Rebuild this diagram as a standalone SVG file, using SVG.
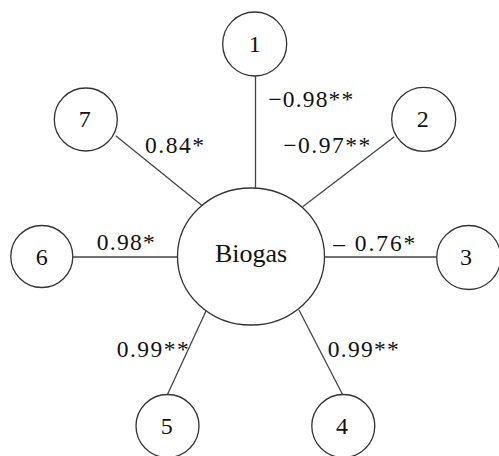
<svg xmlns="http://www.w3.org/2000/svg" width="499" height="456" viewBox="0 0 499 456">
<style>
.n{fill:#fff;stroke:#333;stroke-width:1.3}
.e{stroke:#444;stroke-width:1.3;fill:none}
.t{font-family:"Liberation Serif","Times New Roman",serif;fill:#111;text-anchor:middle}
.l{font-family:"Liberation Serif","Times New Roman",serif;fill:#111;font-size:23.5px}
</style>
<rect width="499" height="456" fill="#fff"/>
<g id="connectors">
<line class="e" x1="255.5" y1="76" x2="255.5" y2="188"/>
<line class="e" x1="394.3" y1="136.7" x2="302.7" y2="206.7"/>
<line class="e" x1="324" y1="257" x2="437" y2="257"/>
<line class="e" x1="342.3" y1="394" x2="299" y2="310"/>
<line class="e" x1="167.7" y1="394" x2="206" y2="311"/>
<line class="e" x1="72.7" y1="257" x2="177.5" y2="257"/>
<line class="e" x1="115.7" y1="135.7" x2="202.3" y2="205.7"/>
</g>
<g id="labels">
<text class="l" x="268.3" y="107" textLength="85" lengthAdjust="spacing">−0.98**</text>
<text class="l" x="283.3" y="153.3" textLength="87" lengthAdjust="spacing">−0.97**</text>
<text class="l" x="333.3" y="251" textLength="82" lengthAdjust="spacing">– 0.76*</text>
<text class="l" x="145" y="153.3" textLength="59" lengthAdjust="spacing">0.84*</text>
<text class="l" x="96.7" y="250" textLength="58" lengthAdjust="spacing">0.98*</text>
<text class="l" x="116.7" y="356.7" textLength="72" lengthAdjust="spacing">0.99**</text>
<text class="l" x="327.7" y="356.7" textLength="71" lengthAdjust="spacing">0.99**</text>
</g>
<g id="biogas">
<ellipse class="n" cx="251" cy="256.5" rx="73.5" ry="68.5"/>
<text class="t" x="251" y="262" font-size="26">Biogas</text>
</g>
<g id="node1"><circle class="n" cx="254.7" cy="44" r="32"/><text class="t" x="254.7" y="52" font-size="24">1</text></g>
<g id="node2"><circle class="n" cx="423.7" cy="119.3" r="32"/><text class="t" x="422.7" y="127" font-size="24">2</text></g>
<g id="node3"><circle class="n" cx="468.7" cy="257.5" r="32"/><text class="t" x="466" y="264.5" font-size="24">3</text></g>
<g id="node4"><circle class="n" cx="343.3" cy="426" r="31.5"/><text class="t" x="342" y="433.5" font-size="24">4</text></g>
<g id="node5"><circle class="n" cx="167.5" cy="426" r="31.5"/><text class="t" x="166.7" y="433.5" font-size="24">5</text></g>
<g id="node6"><circle class="n" cx="41.8" cy="256.5" r="31"/><text class="t" x="41.7" y="264.5" font-size="24">6</text></g>
<g id="node7"><circle class="n" cx="85.8" cy="119.5" r="31.5"/><text class="t" x="84.8" y="127" font-size="24">7</text></g>
</svg>
